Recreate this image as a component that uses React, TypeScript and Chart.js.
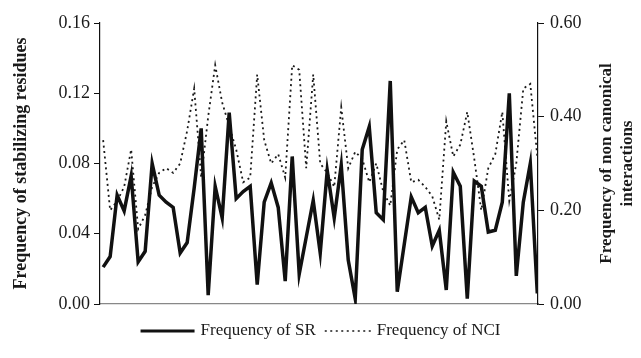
import React, { useEffect, useRef } from 'react';
import { Chart, registerables } from 'chart.js';

Chart.register(...registerables);

// Frequency of stabilizing residues (left axis)
const srValues: number[] = [
  0.021, 0.027, 0.062, 0.053, 0.073, 0.024, 0.030, 0.080, 0.062, 0.058,
  0.055, 0.029, 0.035, 0.066, 0.100, 0.005, 0.067, 0.049, 0.109, 0.060,
  0.064, 0.067, 0.011, 0.058, 0.069, 0.055, 0.013, 0.084, 0.017, 0.038,
  0.059, 0.029, 0.076, 0.049, 0.079, 0.025, 0.003, 0.088, 0.101, 0.052,
  0.048, 0.127, 0.007, 0.034, 0.061, 0.052, 0.055, 0.033, 0.042, 0.008,
  0.075, 0.067, 0.003, 0.070, 0.067, 0.041, 0.042, 0.058, 0.120, 0.016,
  0.058, 0.080, 0.006,
];

// Frequency of non canonical interactions (right axis)
const nciValues: number[] = [
  0.35, 0.20, 0.22, 0.25, 0.33, 0.16, 0.19, 0.25, 0.28, 0.29,
  0.28, 0.30, 0.37, 0.46, 0.27, 0.40, 0.51, 0.43, 0.38, 0.33,
  0.26, 0.27, 0.49, 0.35, 0.30, 0.32, 0.27, 0.51, 0.50, 0.29,
  0.49, 0.30, 0.28, 0.25, 0.42, 0.29, 0.325, 0.31, 0.26, 0.30,
  0.24, 0.21, 0.33, 0.35, 0.26, 0.265, 0.25, 0.23, 0.18, 0.39,
  0.315, 0.34, 0.41, 0.31, 0.20, 0.29, 0.32, 0.41, 0.22, 0.30,
  0.46, 0.47, 0.315,
];

const leftTicks: number[] = [0, 0.04, 0.08, 0.12, 0.16];
const rightTicks: number[] = [0, 0.2, 0.4, 0.6];

const leftTitle = 'Frequency of stabilizing residues';
const rightTitleLines: string[] = ['Frequency of non canonical', 'interactions'];
const seriesNames: string[] = ['Frequency of SR', 'Frequency of NCI'];

const SERIF = '"Liberation Serif", "Times New Roman", serif';
const TEXT = '#1a1a1a';

const rightTitlePlugin = {
  id: 'rightTitle',
  afterDraw(chart: any) {
    const ctx = chart.ctx;
    const { top, bottom } = chart.chartArea;
    const cy = (top + bottom) / 2;
    ctx.save();
    ctx.font = `bold 17px ${SERIF}`;
    ctx.fillStyle = TEXT;
    ctx.textAlign = 'center';
    ctx.textBaseline = 'middle';
    rightTitleLines.forEach((t, i) => {
      ctx.save();
      ctx.translate(chart.width - 34 + i * 21, cy);
      ctx.rotate(-Math.PI / 2);
      ctx.fillText(t, 0, 0);
      ctx.restore();
    });
    ctx.restore();
  },
};

const legendPlugin = {
  id: 'customLegend',
  afterDraw(chart: any) {
    const ctx = chart.ctx;
    const ds = chart.data.datasets;
    const y = 331;
    const sampleW = [54, 46];
    const gapAfterSample = 6;
    const gapBetween = 9;
    ctx.save();
    ctx.font = `17px ${SERIF}`;
    const widths = ds.map((d: any) => ctx.measureText(d.label).width);
    let total = 0;
    ds.forEach((_: any, i: number) => {
      total += sampleW[i] + gapAfterSample + widths[i];
      if (i < ds.length - 1) total += gapBetween;
    });
    let x = (chart.width - total) / 2;
    ds.forEach((d: any, i: number) => {
      ctx.save();
      ctx.strokeStyle = d.borderColor;
      ctx.lineWidth = i === 0 ? 3 : 1.6;
      ctx.setLineDash(d.borderDash || []);
      ctx.beginPath();
      ctx.moveTo(x, y);
      ctx.lineTo(x + sampleW[i], y);
      ctx.stroke();
      ctx.restore();
      x += sampleW[i] + gapAfterSample;
      ctx.fillStyle = TEXT;
      ctx.textAlign = 'left';
      ctx.textBaseline = 'middle';
      ctx.fillText(d.label, x, y);
      x += widths[i] + gapBetween;
    });
    ctx.restore();
  },
};

export default function App() {
  const canvasRef = useRef<HTMLCanvasElement | null>(null);

  useEffect(() => {
    document.body.style.margin = '0';
    const canvas = canvasRef.current;
    if (!canvas) return;
    const chart = new Chart(canvas, {
      type: 'line',
      data: {
        datasets: [
          {
            label: seriesNames[0],
            data: srValues.map((v, i) => ({ x: i, y: v })),
            yAxisID: 'y',
            borderColor: '#111',
            backgroundColor: '#111',
            borderWidth: 3.5,
            pointRadius: 0,
            tension: 0,
            fill: false,
          },
          {
            label: seriesNames[1],
            data: nciValues.map((v, i) => ({ x: i, y: v })),
            yAxisID: 'y2',
            borderColor: '#1a1a1a',
            backgroundColor: '#1a1a1a',
            borderWidth: 1.8,
            borderDash: [2, 3.5],
            pointRadius: 0,
            tension: 0,
            fill: false,
          },
        ],
      },
      options: {
        responsive: false,
        animation: false,
        devicePixelRatio: 1,
        layout: { padding: { left: 0, right: 0, top: 23, bottom: 47 } },
        plugins: {
          tooltip: { enabled: false },
          legend: { display: false },
        },
        scales: {
          x: {
            type: 'linear',
            min: -0.45,
            max: 62.1,
            ticks: { display: false },
            grid: { display: false },
            border: { display: true, color: '#888', width: 1.2 },
            afterFit: (s: any) => {
              s.height = 7;
            },
          },
          y: {
            position: 'left',
            min: 0,
            max: 0.16,
            afterBuildTicks: (s: any) => {
              s.ticks = leftTicks.map((v) => ({ value: v }));
            },
            ticks: {
              callback: (v: any) => Number(v).toFixed(2),
              color: TEXT,
              font: { family: SERIF, size: 18 },
              padding: 4,
            },
            grid: { drawOnChartArea: false, drawTicks: true, tickLength: 6, color: '#111' },
            border: { display: true, color: '#111', width: 1.2 },
            title: {
              display: true,
              text: leftTitle,
              color: TEXT,
              font: { family: SERIF, size: 18, weight: 'bold' },
              padding: { top: 11, bottom: 0 },
            },
            afterFit: (s: any) => {
              s.width = 100;
            },
          },
          y2: {
            position: 'right',
            min: 0,
            max: 0.6,
            afterBuildTicks: (s: any) => {
              s.ticks = rightTicks.map((v) => ({ value: v }));
            },
            ticks: {
              callback: (v: any) => Number(v).toFixed(2),
              color: TEXT,
              font: { family: SERIF, size: 18 },
              padding: 6,
            },
            grid: { drawOnChartArea: false, drawTicks: true, tickLength: 6, color: '#111' },
            border: { display: true, color: '#111', width: 1.2 },
            afterFit: (s: any) => {
              s.width = 103;
            },
          },
        },
      } as any,
      plugins: [rightTitlePlugin, legendPlugin],
    });
    return () => chart.destroy();
  }, []);

  return (
    <div style={{ width: 641, height: 358, background: '#fff' }}>
      <canvas ref={canvasRef} width={641} height={358} />
    </div>
  );
}
